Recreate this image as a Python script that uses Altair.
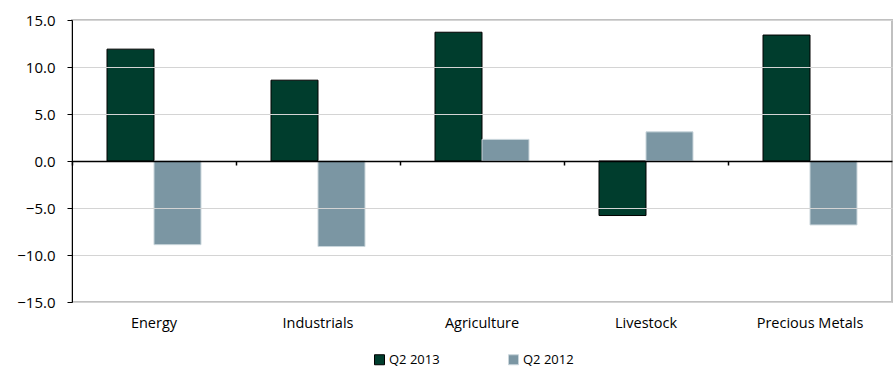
import altair as alt
import pandas as pd

categories = ["Energy", "Industrials", "Agriculture", "Livestock", "Precious Metals"]
q2_2013 = [11.9, 8.6, 13.7, -5.8, 13.4]
q2_2012 = [-8.9, -9.1, 2.3, 3.1, -6.8]
series_names = ["Q2 2013", "Q2 2012"]
y_ticks = [-15, -10, -5, 0, 5, 10, 15]

rows = []
for c, a, b in zip(categories, q2_2013, q2_2012):
    rows.append({"category": c, "series": series_names[0], "value": a})
    rows.append({"category": c, "series": series_names[1], "value": b})
df = pd.DataFrame(rows)

FONT = "Open Sans"

x_scale = alt.Scale(domain=categories, paddingInner=0, paddingOuter=0)
y_scale = alt.Scale(domain=[-15, 15], nice=False, zero=False)

y_axis = alt.Axis(values=y_ticks, format=".1f", grid=True, gridColor="#D4D4D4",
                  gridWidth=1, domainColor="#000000", domainWidth=1,
                  tickColor="#000000", tickSize=5, labelFont=FONT,
                  labelFontSize=15, labelColor="#000000", labelPadding=12,
                  zindex=1)

legend = alt.Legend(title=None, orient="none", legendX=301, legendY=333,
                    direction="horizontal", symbolType="square", symbolSize=100,
                    labelFont=FONT, labelFontSize=13, labelColor="#000000",
                    columnPadding=66, labelOffset=3, symbolStrokeWidth=1,
                    padding=0)

bars = alt.Chart(df).mark_bar(strokeWidth=1).encode(
    x=alt.X("category:N", scale=x_scale, sort=categories, title=None,
            axis=alt.Axis(orient="bottom", domain=False, ticks=False, labelAngle=0,
                          labelFont=FONT, labelFontSize=14.5, labelColor="#000000",
                          labelPadding=14, grid=False)),
    xOffset=alt.XOffset("series:N", sort=series_names,
                        scale=alt.Scale(domain=series_names, paddingInner=0,
                                        paddingOuter=0.745)),
    y=alt.Y("value:Q", scale=y_scale, title=None, axis=y_axis),
    fill=alt.Fill("series:N", sort=series_names,
                  scale=alt.Scale(domain=series_names, range=["#003D2D", "#7B96A3"]),
                  legend=legend),
    stroke=alt.Stroke("series:N", sort=series_names,
                      scale=alt.Scale(domain=series_names, range=["#000000", "#C9D5DB"]),
                      legend=legend),
)

zero_axis = alt.Chart(df).mark_point(opacity=0).encode(
    x=alt.X("category:N", scale=x_scale, sort=categories, title=None,
            axis=alt.Axis(orient="bottom", offset=-141, labels=False, domain=True,
                          domainColor="#000000", domainWidth=1.5, ticks=True,
                          tickColor="#000000", tickSize=4, tickWidth=1.5,
                          bandPosition=0, grid=False, zindex=2)),
    y=alt.Y("value:Q", scale=y_scale, title=None, axis=y_axis),
)

chart = alt.layer(bars, zero_axis).resolve_axis(x="independent").properties(
    width=820, height=282,
    autosize=alt.AutoSizeParams(type="none"),
    padding={"left": 72, "top": 20, "right": 3, "bottom": 68},
    background="#FFFFFF",
).configure_view(stroke="#C0C0C0", strokeWidth=2)

chart.save("out.html", embed_options={"renderer": "svg", "actions": False})
